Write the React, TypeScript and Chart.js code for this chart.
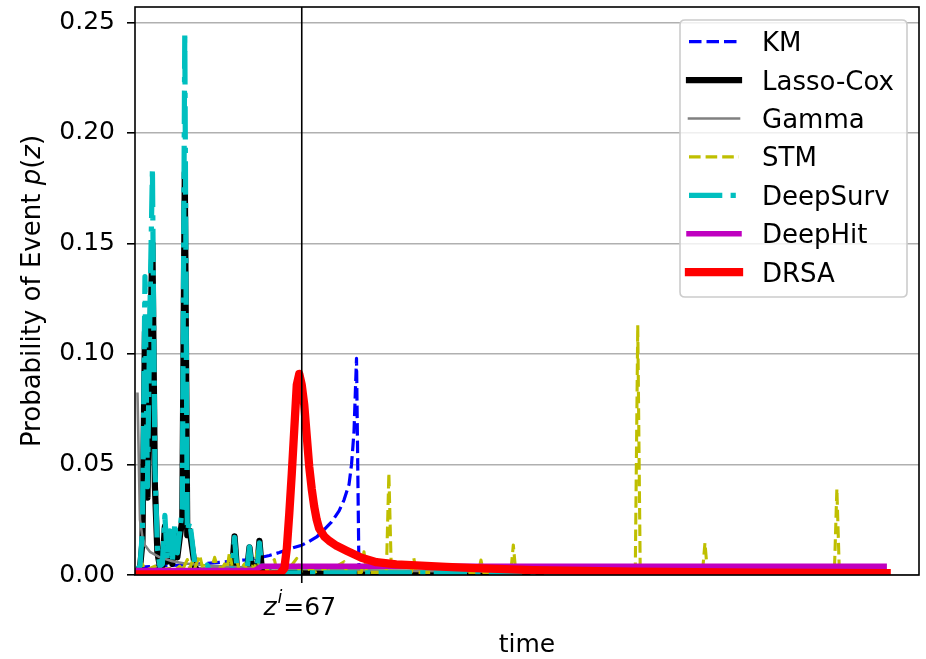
import React, { useEffect, useRef } from 'react';
import { Chart, registerables } from 'chart.js';

Chart.register(...registerables);

// ---------- data ----------
const seriesNames = ['KM', 'Lasso-Cox', 'Gamma', 'STM', 'DeepSurv', 'DeepHit', 'DRSA'];

const kmTime = [1, 10, 20, 26, 35, 44, 50, 54, 58, 62, 67, 70, 73, 76, 79, 82, 84, 86, 87, 88, 89, 90, 301];
const kmProb = [0.0035, 0.004, 0.0046, 0.005, 0.0058, 0.0068, 0.0078, 0.0088, 0.0102, 0.0118, 0.0135, 0.0152, 0.0172, 0.0205, 0.024, 0.029, 0.034, 0.041, 0.05, 0.065, 0.098, 0.0, 0.0];

const lassoTime = [1, 2, 3, 4, 5, 6, 7, 8, 9, 10, 11, 12, 13, 14, 15, 16, 17, 18, 19, 20, 21, 22, 23, 24, 25, 39, 40, 41, 45, 46, 47, 49, 50, 51, 55, 301];
const lassoProb = [0.002, 0.003, 0.015, 0.11, 0.035, 0.1, 0.15, 0.04, 0.01, 0.004, 0.004, 0.022, 0.006, 0.016, 0.005, 0.02, 0.008, 0.017, 0.025, 0.182, 0.018, 0.02, 0.012, 0.004, 0.002, 0.002, 0.0175, 0.002, 0.002, 0.0125, 0.002, 0.002, 0.0155, 0.002, 0.001, 0.001];

const gammaTime = [1, 2, 3, 4, 6, 10, 15, 20, 30, 45, 70, 100, 150, 200, 250, 301];
const gammaProb = [0.082, 0.025, 0.017, 0.0135, 0.0105, 0.008, 0.0062, 0.0052, 0.0042, 0.0034, 0.0026, 0.002, 0.0015, 0.0012, 0.001, 0.0008];

const stmTime = [1, 3, 4, 8, 9, 14, 15, 18, 19, 21, 22, 23, 24, 26, 27, 28, 29, 31, 32, 33, 35, 36, 37, 38, 39, 41, 42, 44, 45, 47, 48, 49, 50, 52, 53, 56, 57, 60, 61, 65, 66, 71, 72, 76, 77, 84, 85, 91, 92, 93, 101, 102, 103, 111, 112, 113, 138, 139, 140, 151, 152, 153, 183, 184, 185, 192, 193, 201, 202, 203, 212, 213, 228, 229, 230, 242, 243, 258, 259, 281, 282, 283, 301];
const stmProb = [0.002, 0.005, 0.002, 0.004, 0.002, 0.003, 0.001, 0.004, 0.002, 0.007, 0.003, 0.006, 0.003, 0.009, 0.004, 0.006, 0.002, 0.004, 0.008, 0.004, 0.003, 0.005, 0.003, 0.0105, 0.004, 0.006, 0.002, 0.005, 0.002, 0.004, 0.002, 0.0105, 0.003, 0.005, 0.002, 0.007, 0.002, 0.004, 0.0015, 0.0075, 0.0015, 0.003, 0.0012, 0.003, 0.0012, 0.006, 0.0012, 0.0012, 0.0105, 0.0012, 0.0012, 0.046, 0.0012, 0.0012, 0.0078, 0.0012, 0.0012, 0.0068, 0.0012, 0.0012, 0.0136, 0.0012, 0.0012, 0.004, 0.0012, 0.004, 0.0012, 0.0012, 0.113, 0.0012, 0.004, 0.0012, 0.0012, 0.0145, 0.0012, 0.004, 0.0012, 0.004, 0.0012, 0.0012, 0.039, 0.0012, 0.0012];

const deepSurvTime = [1, 2, 3, 4, 5, 6, 7, 8, 9, 10, 11, 12, 13, 14, 15, 16, 17, 18, 19, 20, 21, 22, 23, 24, 25, 28, 29, 30, 39, 40, 41, 45, 46, 47, 49, 50, 51, 55, 301];
const deepSurvProb = [0.003, 0.004, 0.02, 0.135, 0.04, 0.12, 0.184, 0.05, 0.012, 0.004, 0.005, 0.027, 0.007, 0.02, 0.006, 0.0235, 0.01, 0.02, 0.03, 0.2455, 0.02, 0.024, 0.015, 0.005, 0.002, 0.002, 0.0045, 0.002, 0.002, 0.017, 0.002, 0.002, 0.0127, 0.002, 0.002, 0.0145, 0.002, 0.001, 0.0008];

const deepHitTime = [1, 48, 51, 301];
const deepHitProb = [0.002, 0.002, 0.004, 0.004];

const drsaTime = [1, 58, 59, 60, 61, 62, 63, 64, 65, 66, 67, 68, 69, 70, 71, 72, 73, 74, 76, 78, 81, 85, 91, 97, 105, 115, 125, 137, 160, 200, 250, 302];
const drsaProb = [0.0003, 0.0003, 0.0016, 0.003, 0.012, 0.028, 0.046, 0.066, 0.086, 0.091, 0.086, 0.077, 0.063, 0.049, 0.039, 0.031, 0.025, 0.021, 0.0175, 0.0155, 0.0132, 0.011, 0.0078, 0.0058, 0.0048, 0.0042, 0.0037, 0.0031, 0.0022, 0.0015, 0.0011, 0.0009];

const zMarker = 67;
const yTickValues = [0, 0.05, 0.1, 0.15, 0.2, 0.25];
const yTickLabels = ['0.00', '0.05', '0.10', '0.15', '0.20', '0.25'];
const xRange = [0, 315];
const yRange = [0, 0.257];

// ---------- styles ----------
const FONT = '"DejaVu Sans", "Liberation Sans", sans-serif';
const seriesStyles = [
  { color: '#0000ff', width: 3.2, dash: [12.5, 5] },
  { color: '#000000', width: 6.2, dash: [] as number[] },
  { color: '#808080', width: 2.6, dash: [] as number[] },
  { color: '#bfbf00', width: 3.1, dash: [11.6, 5] },
  { color: '#00bfbf', width: 5.2, dash: [33.3, 8.3, 5.2, 8.3] },
  { color: '#bf00bf', width: 5.5, dash: [] as number[] },
  { color: '#ff0000', width: 8.3, dash: [] as number[] },
];

const seriesData = [
  [kmTime, kmProb],
  [lassoTime, lassoProb],
  [gammaTime, gammaProb],
  [stmTime, stmProb],
  [deepSurvTime, deepSurvProb],
  [deepHitTime, deepHitProb],
  [drsaTime, drsaProb],
];

function drawRuns(ctx: CanvasRenderingContext2D, runs: { text: string; italic?: boolean; size?: number; dy?: number; dx?: number }[], cx: number, baseline: number, base = 25) {
  const widths = runs.map((r) => {
    ctx.font = `${r.italic ? 'italic ' : ''}${r.size || base}px ${FONT}`;
    return ctx.measureText(r.text).width + (r.dx || 0);
  });
  const total = widths.reduce((a, b) => a + b, 0);
  let x = cx - total / 2;
  runs.forEach((r, i) => {
    ctx.font = `${r.italic ? 'italic ' : ''}${r.size || base}px ${FONT}`;
    ctx.fillText(r.text, x + (r.dx || 0), baseline + (r.dy || 0));
    x += widths[i];
  });
}

const overlayPlugin = {
  id: 'overlay',
  afterDatasetsDraw(chart: any) {
    const { ctx, chartArea: a, scales } = chart;
    const zx = scales.x.getPixelForValue(zMarker);
    ctx.save();
    ctx.setLineDash([]);
    ctx.strokeStyle = '#000';
    ctx.lineWidth = 1.6;
    ctx.lineCap = 'butt';
    // marker line + tick
    ctx.beginPath();
    ctx.moveTo(zx, a.top);
    ctx.lineTo(zx, a.bottom + 8);
    ctx.stroke();
    // frame
    ctx.strokeRect(a.left, a.top, a.right - a.left, a.bottom - a.top);

    // legend
    const lx = a.right - 12 - 227;
    const ly = a.top + 13;
    const lw = 227;
    const lh = 277;
    const r = 5;
    ctx.beginPath();
    ctx.moveTo(lx + r, ly);
    ctx.lineTo(lx + lw - r, ly);
    ctx.quadraticCurveTo(lx + lw, ly, lx + lw, ly + r);
    ctx.lineTo(lx + lw, ly + lh - r);
    ctx.quadraticCurveTo(lx + lw, ly + lh, lx + lw - r, ly + lh);
    ctx.lineTo(lx + r, ly + lh);
    ctx.quadraticCurveTo(lx, ly + lh, lx, ly + lh - r);
    ctx.lineTo(lx, ly + r);
    ctx.quadraticCurveTo(lx, ly, lx + r, ly);
    ctx.closePath();
    ctx.fillStyle = 'rgba(255,255,255,0.8)';
    ctx.fill();
    ctx.strokeStyle = '#cccccc';
    ctx.lineWidth = 1.6;
    ctx.stroke();

    seriesNames.forEach((name, i) => {
      const st = seriesStyles[i];
      const rowY = ly + 21.7 + i * 38.4;
      ctx.beginPath();
      ctx.strokeStyle = st.color;
      ctx.lineWidth = st.width;
      ctx.setLineDash(st.dash);
      ctx.lineCap = st.dash.length ? 'butt' : 'square';
      ctx.moveTo(lx + 9, rowY);
      ctx.lineTo(lx + 59, rowY);
      ctx.stroke();
      ctx.setLineDash([]);
      ctx.fillStyle = '#000';
      ctx.font = `26px ${FONT}`;
      ctx.textAlign = 'left';
      ctx.textBaseline = 'alphabetic';
      ctx.fillText(name, lx + 82, rowY + 9.5);
    });

    // x tick label  z^i=67
    ctx.fillStyle = '#000';
    ctx.textAlign = 'left';
    ctx.textBaseline = 'alphabetic';
    drawRuns(ctx, [
      { text: 'z', italic: true },
      { text: 'i', italic: true, size: 17.5, dy: -12, dx: 1 },
      { text: '=67', dx: 1 },
    ], zx - 2, 615);

    // x title
    ctx.font = `25px ${FONT}`;
    ctx.textAlign = 'center';
    ctx.fillText('time', (a.left + a.right) / 2, 652);

    // y title
    ctx.save();
    ctx.translate(40, (a.top + a.bottom) / 2);
    ctx.rotate(-Math.PI / 2);
    ctx.textAlign = 'left';
    drawRuns(ctx, [
      { text: 'Probability of Event ' },
      { text: 'p', italic: true },
      { text: '(' },
      { text: 'z', italic: true },
      { text: ')' },
    ], 0, 0, 26);
    ctx.restore();

    ctx.restore();
  },
};

export default function App() {
  const ref = useRef<HTMLCanvasElement | null>(null);
  useEffect(() => {
    if (!ref.current) return;
    const datasets = seriesNames.map((name, i) => {
      const [ts, ps] = seriesData[i];
      const st = seriesStyles[i];
      return {
        label: name,
        data: ts.map((t, k) => ({ x: t, y: ps[k] })),
        showLine: true,
        borderColor: st.color,
        backgroundColor: st.color,
        borderWidth: st.width,
        borderDash: st.dash,
        borderCapStyle: st.dash.length ? 'butt' : 'square',
        borderJoinStyle: 'round',
        pointRadius: 0,
        pointHoverRadius: 0,
        tension: 0,
        fill: false,
        clip: 0,
        order: seriesNames.length - i,
      };
    });
    const chart = new Chart(ref.current, {
      type: 'scatter',
      data: { datasets } as any,
      options: {
        responsive: false,
        animation: false,
        events: [],
        layout: { padding: { top: 7, right: 7, left: 0, bottom: 0 } },
        plugins: { legend: { display: false }, tooltip: { enabled: false } },
        scales: {
          x: {
            type: 'linear',
            min: xRange[0],
            max: xRange[1],
            grid: { display: false },
            border: { display: false },
            ticks: { display: false },
            afterFit: (s: any) => {
              s.height = 84;
              s.paddingLeft = 0;
              s.paddingRight = 0;
            },
          },
          y: {
            type: 'linear',
            min: yRange[0],
            max: yRange[1],
            afterBuildTicks: (s: any) => {
              s.ticks = yTickValues.map((v) => ({ value: v }));
            },
            ticks: {
              color: '#000',
              padding: 12,
              font: { family: FONT, size: 25 },
              callback: (_v: any, idx: number) => yTickLabels[idx],
            },
            grid: {
              color: '#b0b0b0',
              lineWidth: 1.6,
              tickColor: '#000',
              tickLength: 8,
              tickWidth: 1.6,
            },
            border: { display: false },
            afterFit: (s: any) => {
              s.width = 135;
              s.paddingTop = 0;
              s.paddingBottom = 0;
            },
          },
        },
      } as any,
      plugins: [overlayPlugin],
    });
    return () => chart.destroy();
  }, []);
  return (
    <div style={{ position: 'absolute', left: 0, top: 0, width: 926, height: 659, background: '#fff' }}>
      <canvas ref={ref} width={926} height={659} style={{ display: 'block' }} />
    </div>
  );
}
